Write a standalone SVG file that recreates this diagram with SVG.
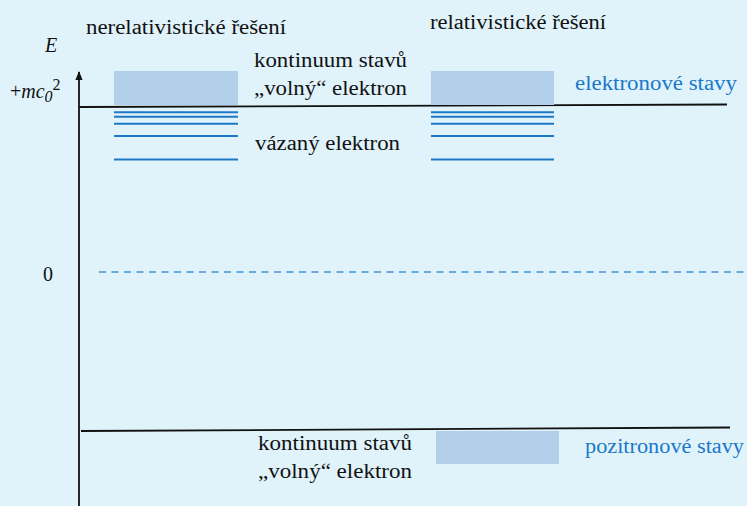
<svg xmlns="http://www.w3.org/2000/svg" width="747" height="506" viewBox="0 0 747 506">
  <style>
    text { font-family: 'Liberation Serif', 'Times New Roman', Times, Tinos, 'Nimbus Roman', 'Nimbus Roman No9 L', FreeSerif, 'Noto Serif', 'DejaVu Serif', serif; font-size: 20px; fill: #111; }
    .b { fill: #1a78c8; }
    .i { font-style: italic; }
    .box { fill: #b3d0ea; }
    .lvl { stroke: #1e78c8; stroke-width: 2; fill: none; }
    .ax { stroke: #111; stroke-width: 1.8; fill: none; }
    .dash { stroke: #6aaae2; stroke-width: 2; stroke-dasharray: 7 5.5; fill: none; }
  </style>
  <defs>
    <marker id="arr" viewBox="0 0 10 10" refX="9" refY="5" markerWidth="5" markerHeight="6" markerUnits="strokeWidth" orient="auto">
      <path d="M0,1 L10,5 L0,9 Z" fill="#111"/>
    </marker>
  </defs>
  <rect width="747" height="506" fill="#e0f3fb"/>

  <g id="connectors">
    <line id="axis" class="ax" x1="79" y1="506" x2="79" y2="72" marker-end="url(#arr)"/>
    <line id="mc2-line" class="ax" x1="79" y1="107" x2="727" y2="104.5"/>
    <line id="zero-line" class="dash" x1="99" y1="272" x2="747" y2="272"/>
    <line id="neg-line" class="ax" x1="81" y1="431" x2="730" y2="427.5"/>
  </g>

  <g id="axis-labels">
    <text class="i" x="45" y="52">E</text>
    <text x="10" y="98" font-size="21">+<tspan class="i">mc</tspan><tspan class="i" font-size="16" dy="4">0</tspan><tspan font-size="16" dy="-12">2</tspan></text>
    <text x="43" y="281">0</text>
  </g>

  <g id="nonrel">
    <text x="86" y="34" textLength="200" lengthAdjust="spacingAndGlyphs">nerelativistické řešení</text>
    <rect class="box" x="114" y="71" width="124" height="34"/>
    <line class="lvl" x1="114" y1="112.3" x2="238" y2="112.3"/>
    <line class="lvl" x1="114" y1="116.7" x2="238" y2="116.7"/>
    <line class="lvl" x1="114" y1="123.7" x2="238" y2="123.7"/>
    <line class="lvl" x1="114" y1="136" x2="238" y2="136"/>
    <line class="lvl" x1="114" y1="159.5" x2="238" y2="159.5"/>
  </g>

  <g id="upper-labels">
    <text x="254" y="66.5" textLength="153" lengthAdjust="spacingAndGlyphs">kontinuum stavů</text>
    <text x="254" y="95" textLength="153" lengthAdjust="spacingAndGlyphs">„volný“ elektron</text>
    <text x="255" y="150" textLength="145" lengthAdjust="spacingAndGlyphs">vázaný elektron</text>
  </g>

  <g id="rel">
    <text x="430" y="29" textLength="176" lengthAdjust="spacingAndGlyphs">relativistické řešení</text>
    <rect class="box" x="431" y="71" width="123" height="34"/>
    <line class="lvl" x1="431" y1="112.3" x2="554" y2="112.3"/>
    <line class="lvl" x1="431" y1="116.7" x2="554" y2="116.7"/>
    <line class="lvl" x1="431" y1="123.7" x2="554" y2="123.7"/>
    <line class="lvl" x1="431" y1="136" x2="554" y2="136"/>
    <line class="lvl" x1="431" y1="159.5" x2="554" y2="159.5"/>
    <text class="b" x="575" y="90" textLength="162" lengthAdjust="spacingAndGlyphs">elektronové stavy</text>
  </g>

  <g id="positron">
    <rect class="box" x="436" y="431" width="123" height="33"/>
    <text x="258" y="450" textLength="154" lengthAdjust="spacingAndGlyphs">kontinuum stavů</text>
    <text x="258" y="478" textLength="154" lengthAdjust="spacingAndGlyphs">„volný“ elektron</text>
    <text class="b" x="585" y="452.5" textLength="159" lengthAdjust="spacingAndGlyphs">pozitronové stavy</text>
  </g>
</svg>
